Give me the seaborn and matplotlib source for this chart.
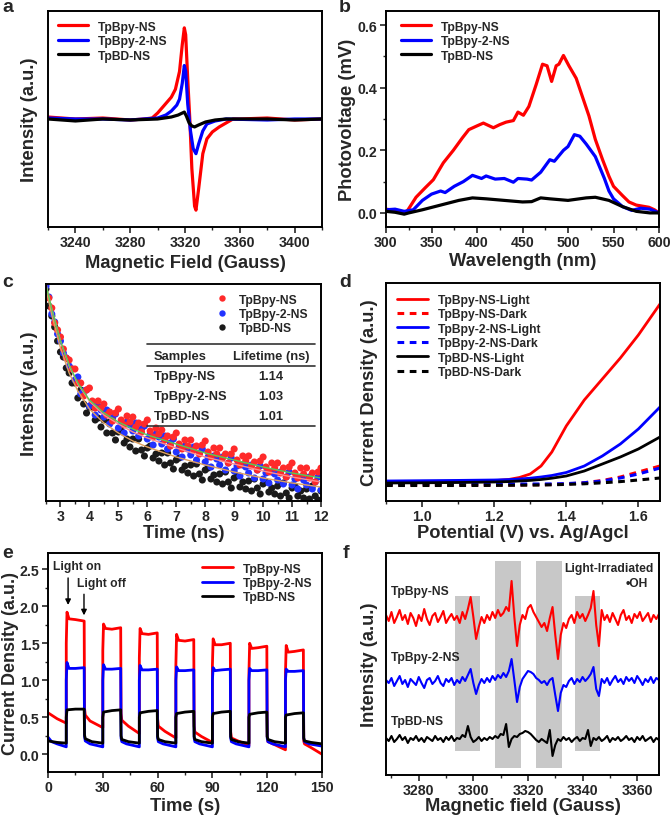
import numpy as np
import pandas as pd
import matplotlib
matplotlib.use("Agg")
import matplotlib.pyplot as plt
from matplotlib.ticker import MultipleLocator
import seaborn as sns

sns.set_style("ticks")
plt.rcParams['font.family'] = ['Liberation Sans', 'DejaVu Sans']
plt.rcParams['font.weight'] = 'bold'
plt.rcParams['axes.labelweight'] = 'bold'

RED, BLUE, BLACK = '#FF0000', '#0000FF', '#000000'
NAMES = ['TpBpy-NS', 'TpBpy-2-NS', 'TpBD-NS']

# ---------------- panel a : EPR ----------------
A_FIELD_RED = [3220, 3240, 3260, 3280, 3290, 3296, 3300, 3305, 3310, 3313, 3316, 3318, 3319.5, 3320.5, 3322, 3323.5, 3325, 3327, 3328, 3330, 3333, 3336, 3340, 3345, 3350, 3355, 3360, 3380, 3400, 3420]
A_INT_RED = [2, 0, 1, -1, 0, 1, 6, 14, 22, 30, 48, 75, 92, 85, 40, 0, -50, -88, -92, -70, -35, -20, -13, -8, -4, 0, 0, 1, -1, 0]
A_FIELD_BLUE = [3220, 3240, 3260, 3280, 3300, 3306, 3310, 3314, 3316, 3318, 3319.5, 3320.5, 3322, 3324, 3326, 3328, 3330, 3333, 3336, 3342, 3350, 3380, 3400, 3420]
A_INT_BLUE = [1, 0, 0, -1, 1, 4, 8, 14, 20, 36, 54, 48, 15, -12, -30, -35, -25, -12, -5, -2, 0, -1, 0, 0]
A_FIELD_BLACK = [3220, 3240, 3260, 3280, 3300, 3310, 3315, 3318, 3319.5, 3321, 3323, 3325, 3327, 3330, 3335, 3342, 3350, 3380, 3400, 3420]
A_INT_BLACK = [0, -2, 0, -1, 0, 2, 4, 6, 7, 3, -4, -7, -8, -6, -3, -1, 0, 0, -1, 0]

# ---------------- panel b : SPV ----------------
B_WL_RED = [300, 310, 322, 333, 343, 352, 363, 374, 384, 391, 400, 407, 418, 425, 432, 440, 445, 451, 457, 465, 472, 477, 482, 487, 490, 495, 501, 509, 516, 523, 530, 538, 545, 550, 560, 567, 575, 589, 595, 600]
B_PV_RED = [0.012, 0.008, 0.0, 0.05, 0.08, 0.106, 0.16, 0.2, 0.24, 0.266, 0.278, 0.287, 0.272, 0.282, 0.29, 0.295, 0.322, 0.312, 0.34, 0.41, 0.475, 0.47, 0.42, 0.47, 0.475, 0.503, 0.47, 0.43, 0.37, 0.31, 0.235, 0.17, 0.117, 0.085, 0.055, 0.035, 0.025, 0.018, 0.01, 0.0]
B_WL_BLUE = [300, 310, 320, 330, 340, 350, 360, 365, 375, 385, 395, 405, 410, 420, 430, 440, 445, 455, 460, 470, 480, 485, 495, 500, 507, 513, 520, 530, 540, 545, 550, 560, 570, 580, 590, 600]
B_PV_BLUE = [0.01, 0.012, 0.005, 0.01, 0.04, 0.06, 0.07, 0.065, 0.085, 0.1, 0.12, 0.11, 0.118, 0.108, 0.11, 0.098, 0.11, 0.108, 0.105, 0.13, 0.17, 0.165, 0.2, 0.212, 0.25, 0.245, 0.22, 0.18, 0.11, 0.07, 0.045, 0.02, 0.008, 0.015, 0.012, 0.0]
B_WL_BLACK = [300, 310, 320, 325, 340, 360, 380, 395, 410, 430, 450, 460, 470, 480, 500, 520, 530, 545, 560, 575, 590, 600]
B_PV_BLACK = [0.005, 0.002, -0.004, 0.0, 0.01, 0.025, 0.04, 0.048, 0.045, 0.04, 0.035, 0.036, 0.048, 0.045, 0.04, 0.048, 0.05, 0.04, 0.02, 0.005, 0.0, 0.0]

# ---------------- panel c : TRPL ----------------
C_TIME = [round(2.5 + 0.1 * i, 1) for i in range(96)]
C_RED = [219, 203, 193, 178, 171, 164, 152, 143, 141, 132,
         132, 118, 118, 105, 111, 113, 100, 93, 100, 93,
         97, 86, 89, 80, 88, 92, 81, 76, 85, 79,
         84, 74, 78, 69, 77, 81, 70, 64, 73, 67,
         71, 61, 65, 55, 64, 68, 57, 52, 61, 55,
         61, 51, 55, 47, 56, 60, 49, 44, 53, 47,
         53, 43, 47, 38, 47, 52, 41, 36, 45, 40,
         45, 35, 39, 31, 40, 44, 34, 29, 38, 33,
         38, 28, 33, 24, 34, 38, 28, 23, 33, 27,
         33, 23, 28, 19, 29, 33]
C_BLUE = [215, 204, 187, 179, 167, 160, 148, 143, 135, 132,
          121, 124, 107, 110, 111, 95, 98, 86, 95, 91,
          84, 91, 77, 83, 87, 73, 78, 68, 79, 76,
          70, 78, 65, 72, 75, 62, 67, 56, 67, 64,
          57, 65, 52, 58, 62, 49, 54, 44, 55, 52,
          46, 54, 41, 48, 52, 39, 44, 34, 45, 42,
          36, 44, 31, 38, 43, 30, 35, 25, 36, 34,
          28, 36, 23, 31, 35, 22, 28, 18, 29, 27,
          21, 29, 17, 24, 29, 16, 22, 12, 24, 21,
          16, 24, 12, 19, 24, 11]
C_BLACK = [212, 195, 185, 174, 160, 149, 144, 133, 128, 118,
           118, 103, 111, 97, 88, 94, 94, 81, 83, 74,
           81, 68, 79, 68, 61, 69, 70, 58, 62, 54,
           62, 50, 62, 51, 45, 53, 55, 43, 47, 40,
           48, 36, 48, 38, 32, 41, 43, 31, 35, 28,
           36, 25, 37, 27, 21, 31, 33, 22, 26, 19,
           27, 17, 29, 19, 13, 23, 25, 14, 19, 12,
           20, 10, 22, 13, 7, 17, 19, 9, 13, 7,
           15, 5, 18, 8, 3, 13, 15, 5, 10, 3,
           12, 2, 15, 5, 1, 10]
C_FIT_T = [2.5, 2.7, 3.0, 3.3, 3.6, 4.0, 4.5, 5.0, 5.5, 6.0, 7.0, 8.0, 9.0, 10.0, 11.0, 12.0]
C_FIT_GREEN = [216, 192, 160, 136, 118, 101, 88, 79, 72, 66, 57, 48, 41, 34, 28, 23]
C_FIT_PINK = [217, 192, 160, 135, 117, 100, 86, 77, 69, 63, 53, 44, 37, 30, 24, 19]
C_FIT_TAN = [212, 186, 153, 128, 110, 92, 78, 68, 60, 54, 44, 36, 29, 23, 18, 14]
LIFETIMES = ['1.14', '1.03', '1.01']

# ---------------- panel d : LSV ----------------
D_POT = [0.90, 1.00, 1.10, 1.20, 1.24, 1.27, 1.30, 1.33, 1.36, 1.40, 1.45, 1.50, 1.55, 1.60, 1.66]
D_RED_LIGHT = [19, 19.3, 19.6, 20.3, 21.5, 23.5, 27, 35, 49, 75, 101, 122, 143, 166, 197]
D_RED_DARK = [16, 16, 16, 16, 16, 16.1, 16.2, 16.3, 16.5, 17, 18.3, 20.5, 24, 29, 35]
D_BLUE_LIGHT = [20, 20.3, 20.6, 21, 21.4, 22, 22.8, 24, 25.5, 28.5, 35, 45, 57, 72, 94]
D_BLUE_DARK = [17, 17, 17, 17, 17, 17, 17, 17, 17.1, 17.4, 18.3, 20, 23, 27, 33]
D_BLACK_LIGHT = [18, 18.2, 18.5, 19, 19.4, 20, 20.6, 21.5, 22.8, 25, 30, 37, 44, 52, 64]
D_BLACK_DARK = [15.5, 15.5, 15.5, 15.6, 15.7, 15.8, 15.9, 16, 16.2, 16.6, 17.2, 18.2, 19.4, 21, 23]

# ---------------- panel e : i-t ----------------
E_T_RED = [0, 5, 10, 10, 10.4, 11.5, 15, 19.8, 20, 20.4, 23, 30,
           30, 30.4, 31.5, 35, 39.8, 40, 40.4, 44, 50,
           50, 50.4, 51.5, 55, 59.8, 60, 60.4, 64, 70,
           70, 70.4, 71.5, 75, 79.8, 80, 80.4, 84, 90,
           90, 90.4, 91.5, 95, 99.8, 100, 100.4, 104, 110,
           110, 110.4, 111.5, 115, 119.8, 120, 120.4, 124, 130,
           130, 130.4, 131.5, 135, 139.8, 140, 140.4, 144, 150]
E_I_RED = [0.56, 0.48, 0.42, 1.5, 1.92, 1.83, 1.82, 1.80, 0.62, 0.53, 0.45, 0.36,
           1.4, 1.76, 1.70, 1.69, 1.71, 0.55, 0.46, 0.38, 0.28,
           1.3, 1.70, 1.63, 1.62, 1.64, 0.48, 0.38, 0.31, 0.22,
           1.2, 1.62, 1.54, 1.53, 1.55, 0.38, 0.30, 0.24, 0.16,
           1.2, 1.56, 1.48, 1.48, 1.50, 0.30, 0.22, 0.18, 0.12,
           1.1, 1.50, 1.43, 1.44, 1.46, 0.24, 0.17, 0.13, 0.06,
           1.1, 1.47, 1.38, 1.39, 1.41, 0.18, 0.14, 0.09, 0.0]
E_T_BLUE = [0, 2, 5, 10, 10, 10.4, 11.5, 15, 19.8, 20, 20.4, 23, 30,
            30, 30.4, 31.5, 35, 39.8, 40, 40.4, 43, 50,
            50, 50.4, 51.5, 55, 59.8, 60, 60.4, 63, 70,
            70, 70.4, 71.5, 75, 79.8, 80, 80.4, 83, 90,
            90, 90.4, 91.5, 95, 99.8, 100, 100.4, 103, 110,
            110, 110.4, 111.5, 115, 119.8, 120, 120.4, 123, 130,
            130, 130.4, 131.5, 135, 139.8, 140, 140.4, 143, 150]
E_I_BLUE = [0.23, 0.17, 0.14, 0.10, 1.0, 1.24, 1.16, 1.16, 1.17, 0.24, 0.18, 0.14, 0.10,
            1.0, 1.21, 1.15, 1.15, 1.16, 0.22, 0.17, 0.14, 0.10,
            1.0, 1.20, 1.14, 1.14, 1.15, 0.22, 0.17, 0.14, 0.10,
            1.0, 1.18, 1.13, 1.13, 1.14, 0.22, 0.17, 0.14, 0.10,
            1.0, 1.17, 1.13, 1.14, 1.15, 0.22, 0.17, 0.14, 0.10,
            1.0, 1.16, 1.13, 1.13, 1.14, 0.22, 0.17, 0.14, 0.10,
            1.0, 1.15, 1.12, 1.12, 1.13, 0.22, 0.17, 0.14, 0.11]
E_T_BLACK = [0, 5, 10, 10, 10.4, 15, 19.8, 20, 20.4, 24, 30,
             30, 30.4, 35, 39.8, 40, 40.4, 44, 50,
             50, 50.4, 55, 59.8, 60, 60.4, 64, 70,
             70, 70.4, 75, 79.8, 80, 80.4, 84, 90,
             90, 90.4, 95, 99.8, 100, 100.4, 104, 110,
             110, 110.4, 115, 119.8, 120, 120.4, 124, 130,
             130, 130.4, 135, 139.8, 140, 140.4, 144, 150]
E_I_BLACK = [0.18, 0.16, 0.15, 0.5, 0.60, 0.61, 0.61, 0.26, 0.21, 0.17, 0.15,
             0.5, 0.57, 0.59, 0.60, 0.25, 0.20, 0.17, 0.15,
             0.5, 0.56, 0.58, 0.59, 0.24, 0.20, 0.17, 0.15,
             0.5, 0.55, 0.57, 0.58, 0.24, 0.20, 0.17, 0.15,
             0.5, 0.55, 0.57, 0.58, 0.24, 0.20, 0.17, 0.15,
             0.5, 0.54, 0.56, 0.57, 0.24, 0.20, 0.17, 0.15,
             0.5, 0.53, 0.55, 0.56, 0.22, 0.18, 0.16, 0.14]

# ---------------- panel f : DMPO-OH EPR ----------------
F_FIELD = list(range(3268, 3369))
F_RED = [160, 154, 163, 152, 158, 165, 155, 160, 151, 162, 157, 149, 160, 154, 166, 156, 150, 159, 162, 153,
         158, 164, 152, 157, 161, 155, 159, 152, 163, 156, 166, 178, 158, 136, 148, 158, 152, 160, 155, 163,
         157, 165, 159, 162, 168, 164, 194, 158, 129, 150, 160, 156, 167, 170, 163, 158, 153, 148, 152, 144,
         157, 168, 140, 116, 140, 152, 147, 156, 160, 152, 163, 157, 161, 154, 160, 167, 184, 150, 129, 165,
         155, 160, 153, 162, 156, 150, 160, 165, 155, 159, 152, 161, 157, 163, 154, 158, 162, 153, 160, 156, 161]
F_BLUE = [95, 92, 97, 89, 94, 99, 91, 95, 88, 96, 93, 90, 98, 92, 87, 95, 97, 91, 94, 99,
          92, 89, 96, 93, 97, 90, 95, 92, 98, 94, 100, 106, 92, 81, 90, 96, 92, 97, 93, 99,
          95, 100, 97, 102, 98, 104, 116, 95, 73, 88, 96, 100, 104, 103, 101, 97, 95, 92, 94, 90,
          95, 97, 80, 64, 82, 90, 88, 94, 97, 91, 96, 93, 98, 94, 97, 101, 108, 86, 79, 96,
          92, 97, 90, 95, 99, 93, 96, 91, 98, 94, 97, 92, 99, 95, 90, 96, 93, 98, 92, 97, 95]
F_BLACK = [37, 34, 39, 33, 36, 40, 35, 38, 32, 37, 35, 39, 34, 37, 33, 38, 36, 34, 39, 35,
           37, 33, 38, 35, 39, 34, 37, 36, 40, 38, 49, 38, 33, 35, 38, 34, 37, 35, 38, 36,
           39, 37, 41, 40, 51, 28, 36, 39, 38, 41, 42, 44, 43, 41, 38, 35, 33, 36, 34, 32,
           45, 19, 30, 36, 34, 38, 35, 37, 33, 36, 38, 34, 37, 36, 45, 29, 37, 35, 38, 34,
           36, 39, 33, 37, 35, 38, 34, 36, 39, 35, 37, 33, 38, 35, 39, 34, 36, 38, 33, 37, 35]
F_SPANS = [(3293.2, 3302.4, 24, 179), (3307.9, 3317.3, 7, 214), (3323.0, 3332.5, 7, 214), (3337.2, 3346.5, 24, 179)]

W, H = 672, 820
fig = plt.figure(figsize=(W / 100, H / 100), dpi=100)


def rect(l, t, r, b):
    return [l / W, 1 - b / H, (r - l) / W, (b - t) / H]


TICK_FS = 10.2
LAB_FS = 13.2
LEG_FS = 8.7


def style(ax, xlab, ylab, xl, yl):
    for s in ax.spines.values():
        s.set_linewidth(1.4)
        s.set_color('black')
        s.set_visible(True)
    ax.tick_params(axis='both', which='major', direction='out', length=4, width=1.2,
                   labelsize=TICK_FS, pad=2)
    ax.tick_params(axis='both', which='minor', direction='out', length=2.5, width=1.0)
    for lab in ax.get_xticklabels() + ax.get_yticklabels():
        lab.set_fontweight('bold')
    ax.set_xlabel(xlab, fontsize=LAB_FS, fontweight='bold')
    ax.set_ylabel(ylab, fontsize=LAB_FS, fontweight='bold')
    ax.xaxis.label.set_va('center')
    ax.yaxis.label.set_va('center')
    ax.xaxis.set_label_coords(0.5, xl)
    ax.yaxis.set_label_coords(yl, 0.5)


def leg(ax, **kw):
    return ax.legend(frameon=False, prop={'weight': 'bold', 'size': LEG_FS}, **kw)


# ---- a ----
ax = fig.add_axes(rect(48, 12, 322, 228))
sns.lineplot(x=A_FIELD_RED, y=A_INT_RED, ax=ax, color=RED, lw=2.3, label=NAMES[0], estimator=None, sort=False)
sns.lineplot(x=A_FIELD_BLUE, y=A_INT_BLUE, ax=ax, color=BLUE, lw=2.3, label=NAMES[1], estimator=None, sort=False)
sns.lineplot(x=A_FIELD_BLACK, y=A_INT_BLACK, ax=ax, color=BLACK, lw=2.3, label=NAMES[2], estimator=None, sort=False)
ax.set_xlim(3220, 3420)
ax.set_ylim(-109, 109)
ax.set_xticks([3240, 3280, 3320, 3360, 3400])
ax.xaxis.set_minor_locator(MultipleLocator(20))
ax.set_yticks([])
style(ax, 'Magnetic Field (Gauss)', 'Intensity (a.u.)', (228 - 263) / 216, (30 - 48) / 274)
leg(ax, loc='upper left', bbox_to_anchor=(0.0, 1.0), handlelength=2.5, labelspacing=0.2, borderaxespad=0.4)

# ---- b ----
ax = fig.add_axes(rect(386, 12, 659, 228))
sns.lineplot(x=B_WL_RED, y=B_PV_RED, ax=ax, color=RED, lw=2.3, label=NAMES[0], estimator=None, sort=False)
sns.lineplot(x=B_WL_BLUE, y=B_PV_BLUE, ax=ax, color=BLUE, lw=2.3, label=NAMES[1], estimator=None, sort=False)
sns.lineplot(x=B_WL_BLACK, y=B_PV_BLACK, ax=ax, color=BLACK, lw=2.3, label=NAMES[2], estimator=None, sort=False)
ax.set_xlim(300, 600)
ax.set_ylim(-0.045, 0.645)
ax.xaxis.set_major_locator(MultipleLocator(50))
ax.xaxis.set_minor_locator(MultipleLocator(25))
ax.set_yticks([0.0, 0.2, 0.4, 0.6])
ax.set_yticklabels(['0.0', '0.2', '0.4', '0.6'])
ax.yaxis.set_minor_locator(MultipleLocator(0.1))
style(ax, 'Wavelength (nm)', 'Photovoltage (mV)', (228 - 262) / 216, (348 - 386) / 273)
leg(ax, loc='upper left', bbox_to_anchor=(0.02, 1.0), handlelength=2.5, labelspacing=0.2, borderaxespad=0.4)

# ---- c ----
ax = fig.add_axes(rect(46, 285, 321, 502))
dfc = pd.DataFrame({'t': C_TIME * 3,
                    'v': C_BLACK + C_BLUE + C_RED,
                    's': [NAMES[2]] * 96 + [NAMES[1]] * 96 + [NAMES[0]] * 96})
sns.scatterplot(data=dfc, x='t', y='v', hue='s', ax=ax,
                palette={NAMES[0]: '#FF2A2A', NAMES[1]: '#2233FF', NAMES[2]: '#1a1a1a'},
                s=26, edgecolor='none', linewidth=0, legend=True)
sns.lineplot(x=C_FIT_T, y=C_FIT_TAN, ax=ax, color='#E0A060', lw=1.0, estimator=None, legend=False)
sns.lineplot(x=C_FIT_T, y=C_FIT_PINK, ax=ax, color='#FF8C8C', lw=1.0, estimator=None, legend=False)
sns.lineplot(x=C_FIT_T, y=C_FIT_GREEN, ax=ax, color='#55CC55', lw=1.0, estimator=None, legend=False)
ax.set_xlim(2.5, 12)
ax.set_ylim(0, 217)
ax.xaxis.set_major_locator(MultipleLocator(1))
ax.xaxis.set_minor_locator(MultipleLocator(0.5))
ax.set_yticks([])
style(ax, 'Time (ns)', 'Intensity (a.u.)', (502 - 533) / 217, (30 - 46) / 275)
h, l = ax.get_legend_handles_labels()
order = [l.index(n) for n in NAMES]
ax.legend([h[i] for i in order], NAMES, frameon=False, prop={'weight': 'bold', 'size': LEG_FS},
          loc='upper left', bbox_to_anchor=(0.56, 1.0), handletextpad=0.4, labelspacing=0.2,
          markerscale=0.9, borderaxespad=0.4)
tr = ax.transAxes
for yy in (0.7235, 0.622, 0.3456):
    ax.plot([0.367, 0.978], [yy, yy], color='#333333', lw=1.2, transform=tr)
TFS = 9.3
ax.text(0.393, 0.668, 'Samples', transform=tr, fontsize=TFS, fontweight='bold', va='center', ha='left')
ax.text(0.818, 0.668, 'Lifetime (ns)', transform=tr, fontsize=TFS, fontweight='bold', va='center', ha='center')
for yy, nm, lt in zip((0.576, 0.484, 0.392), NAMES, LIFETIMES):
    ax.text(0.393, yy, nm, transform=tr, fontsize=TFS, fontweight='bold', va='center', ha='left')
    ax.text(0.818, yy, lt, transform=tr, fontsize=TFS, fontweight='bold', va='center', ha='center')

# ---- d ----
ax = fig.add_axes(rect(386, 284, 660, 502))
dash = (0, (2.2, 1.8))
sns.lineplot(x=D_POT, y=D_RED_LIGHT, ax=ax, color=RED, lw=2.0, label='TpBpy-NS-Light', estimator=None)
ax.plot(D_POT, D_RED_DARK, color=RED, lw=2.2, ls=dash, label='TpBpy-NS-Dark')
sns.lineplot(x=D_POT, y=D_BLUE_LIGHT, ax=ax, color=BLUE, lw=2.0, label='TpBpy-2-NS-Light', estimator=None)
ax.plot(D_POT, D_BLUE_DARK, color=BLUE, lw=2.2, ls=dash, label='TpBpy-2-NS-Dark')
sns.lineplot(x=D_POT, y=D_BLACK_LIGHT, ax=ax, color=BLACK, lw=2.0, label='TpBD-NS-Light', estimator=None)
ax.plot(D_POT, D_BLACK_DARK, color=BLACK, lw=2.2, ls=dash, label='TpBD-NS-Dark')
ax.set_xlim(0.9, 1.66)
ax.set_ylim(0, 218)
ax.set_xticks([1.0, 1.2, 1.4, 1.6])
ax.set_xticklabels(['1.0', '1.2', '1.4', '1.6'])
ax.xaxis.set_minor_locator(MultipleLocator(0.1))
ax.set_yticks([])
style(ax, 'Potential (V) vs. Ag/Agcl', 'Current Density (a.u.)', (502 - 533) / 218, (369 - 386) / 274)
leg(ax, loc='upper left', bbox_to_anchor=(0.0, 1.0), handlelength=2.6, labelspacing=0.2, borderaxespad=0.5)

# ---- e ----
ax = fig.add_axes(rect(48, 554, 322, 773))
sns.lineplot(x=E_T_RED, y=E_I_RED, ax=ax, color=RED, lw=2.0, label=NAMES[0], estimator=None, sort=False)
sns.lineplot(x=E_T_BLUE, y=E_I_BLUE, ax=ax, color=BLUE, lw=2.0, label=NAMES[1], estimator=None, sort=False)
sns.lineplot(x=E_T_BLACK, y=E_I_BLACK, ax=ax, color=BLACK, lw=2.0, label=NAMES[2], estimator=None, sort=False)
ax.set_xlim(0, 150)
ax.set_ylim(-0.24, 2.72)
ax.xaxis.set_major_locator(MultipleLocator(30))
ax.xaxis.set_minor_locator(MultipleLocator(15))
ax.set_yticks([0.0, 0.5, 1.0, 1.5, 2.0, 2.5])
ax.set_yticklabels(['0.0', '0.5', '1.0', '1.5', '2.0', '2.5'])
ax.yaxis.set_minor_locator(MultipleLocator(0.25))
style(ax, 'Time (s)', 'Current Density (a.u.)', (773 - 807) / 219, (11 - 48) / 274)
ax.yaxis.label.set_fontsize(13.0)
leg(ax, loc='upper right', bbox_to_anchor=(1.0, 1.0), handlelength=2.6, labelspacing=0.2, borderaxespad=0.4)
ax.annotate('', xy=(11, 1.98), xytext=(11, 2.42),
            arrowprops=dict(arrowstyle='-|>', color='black', lw=1.0, mutation_scale=8))
ax.annotate('', xy=(19.7, 1.84), xytext=(19.7, 2.2),
            arrowprops=dict(arrowstyle='-|>', color='black', lw=1.0, mutation_scale=8))
ax.text(2.9, 2.54, 'Light on', fontsize=LEG_FS, fontweight='bold', va='center', ha='left')
ax.text(15.8, 2.32, 'Light off', fontsize=LEG_FS, fontweight='bold', va='center', ha='left')

# ---- f ----
ax = fig.add_axes(rect(386, 554, 659, 776))
for x0, x1, y0, y1 in F_SPANS:
    ax.axvspan(x0, x1, ymin=y0 / 222, ymax=y1 / 222, color='#C8C8C8', lw=0, zorder=0)
sns.lineplot(x=F_FIELD, y=F_RED, ax=ax, color=RED, lw=1.5, estimator=None)
sns.lineplot(x=F_FIELD, y=F_BLUE, ax=ax, color=BLUE, lw=1.5, estimator=None)
sns.lineplot(x=F_FIELD, y=F_BLACK, ax=ax, color=BLACK, lw=1.5, estimator=None)
ax.set_xlim(3268, 3368)
ax.set_ylim(0, 222)
ax.set_xticks([3280, 3300, 3320, 3340, 3360])
ax.xaxis.set_minor_locator(MultipleLocator(10))
ax.set_yticks([])
style(ax, 'Magnetic field (Gauss)', 'Intensity (a.u.)', (776 - 807) / 222, (369 - 386) / 273)
for yy, nm in zip((184, 118, 54), NAMES):
    ax.text(3269.8, yy, nm, fontsize=LEG_FS, fontweight='bold', va='center', ha='left')
ax.text(3366, 207, 'Light-Irradiated', fontsize=LEG_FS, fontweight='bold', va='center', ha='right')
ax.text(3364, 192, '•OH', fontsize=LEG_FS, fontweight='bold', va='center', ha='right')

# panel letters
for (px, py), letter in zip([(8, 8), (345, 8), (8, 283), (345, 283), (8, 554), (346, 554)], 'abcdef'):
    fig.text(px / W, 1 - py / H, letter, fontsize=14, fontweight='bold', ha='center', va='center')

fig.savefig('out.png', dpi=100)
